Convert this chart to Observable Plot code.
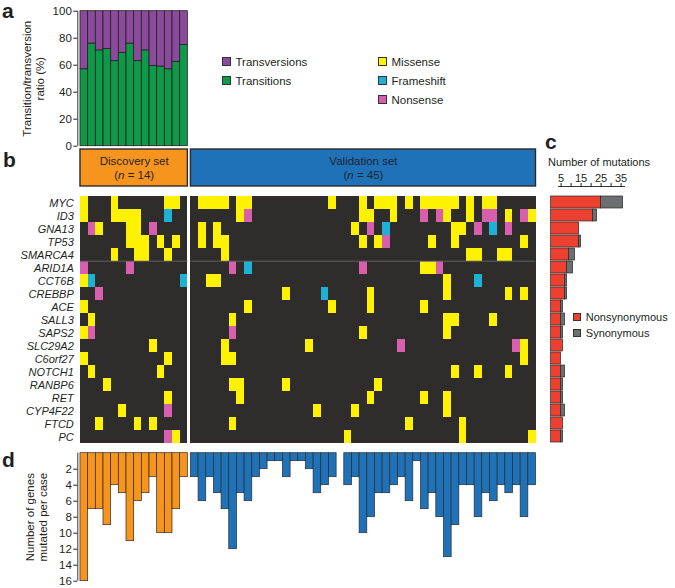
<!DOCTYPE html>
<html><head><meta charset="utf-8">
<script src="https://cdn.jsdelivr.net/npm/d3@7"></script>
<script src="https://cdn.jsdelivr.net/npm/@observablehq/plot@0.6"></script>
<style>
body{margin:0;background:#fff;}
#fig{position:relative;width:675px;height:588px;font-family:"Liberation Sans",Arial,Helvetica,sans-serif;color:#231f20;overflow:hidden;background:#fff;}
#fig svg{position:absolute;left:0;overflow:visible;}
.lbl{position:absolute;font-weight:bold;font-size:21px;line-height:1;}
.leg{position:absolute;height:14px;font-size:11.5px;line-height:14px;display:flex;align-items:center;white-space:nowrap;}
.sw{display:inline-block;width:8.5px;height:8.5px;border:0.8px solid #333;margin-right:5px;box-sizing:border-box;}
.txt{position:absolute;font-size:11px;line-height:14px;white-space:nowrap;}
</style></head><body><div id="fig"></div><script>
// ---------------- DATA ----------------
const genes = ["MYC","ID3","GNA13","TP53","SMARCA4","ARID1A","CCT6B","CREBBP","ACE","SALL3","SAPS2","SLC29A2","C6orf27","NOTCH1","RANBP6","RET","CYP4F22","FTCD","PC"];
const separatorBefore = "ARID1A";
const discoveryN = 14, validationN = 45;
const groupNames = ["Discovery set","Validation set"];

// panel a: % transitions per discovery case (rest = transversions)
const transitionsPct = [57,76,71,72,63,69,76,63,71,59.5,59,57,62.5,75];
const ratioKinds = ["Transversions","Transitions"];
const yTicksA = [0,20,40,60,80,100];

// panel b: M = missense, F = frameshift, N = nonsense
const mutationTypes = ["Missense","Frameshift","Nonsense"];
const discoveryMatrix = [
 "M...M......MM.", // MYC
 "M...MMMM...F..", // ID3
 ".NM...MM.N....", // GNA13
 "......MMM.M.M.", // TP53
 "....M..MM..M..", // SMARCA4
 "N.....N.......", // ARID1A
 "MF...........F", // CCT6B
 "..N...........", // CREBBP
 "M.............", // ACE
 ".M............", // SALL3
 "MN............", // SAPS2
 ".........M....", // SLC29A2
 "M..........M..", // C6orf27
 ".M........M...", // NOTCH1
 "...M..........", // RANBP6
 "...........M..", // RET
 ".....M.....N..", // CYP4F22
 "..M....M.M....", // FTCD
 "...........NM."  // PC
];
const validationMatrix = [
 ".MMMM.MM.. ........M. ..M.MMM.M. MMMMM.M.MM .....", // MYC
 "......MN.. .......... ..MM..M... N.NM..M.NN .M.NM", // ID3
 ".M.M...... .......... .M.N.F.... ....MM.N.F .N...", // GNA13
 ".M.MM..... .......... ..M.MN.... .M..M..... ...M.", // TP53
 "....M..... .......... .......... ......MM.. MM...", // SMARCA4
 ".....N.F.. .......... ..N....... MMN....... .....", // ARID1A
 "..MM...... .......... .......... ...M...F.. .....", // CCT6B
 ".......... ..M....F.. ...M...... ...M...... .M.M.", // CREBBP
 ".......M.. ........M. ...M...... M......... .....", // ACE
 ".....M.... .......... .......... ...MM....M .....", // SALL3
 ".....N.... .......... ..M....... ...M...... .....", // SAPS2
 "....M..... .....M.... .......N.. .......... ..NM.", // SLC29A2
 "....MM.... .......... .......... .......... ...M.", // C6orf27
 ".......... .......... .......... ....M..M.. .M...", // NOTCH1
 ".....MM... ..M....... ....M..... .......... .....", // RANBP6
 "......M... .......... ...M...... M..M...... .....", // RET
 ".......... ......M... .M........ ...M...... .....", // CYP4F22
 ".....M.... .......... ........M. .....M.... .....", // FTCD
 ".......... .......... M......... .....M.... ....M"  // PC
];

// panel c: number of mutations per gene
const mutationKinds = ["Nonsynonymous","Synonymous"];
const nonsynonymous = [25,21,14,14,9,8,7,7,5,5,5,6,5,5,5,5,5,6,5];
const synonymous    = [11,2,0,1,3,3,1,1,1,2,1,0,0,2,1,1,2,0,1];
const xTicksC = [5,10,15,20,25,30,35];
const xLabelsC = [5,15,25,35];

// panel d: number of genes mutated per case
const discoveryGenesPerCase = [16,7,7,9,4,5,11,6,5,3,10,10,7,3];
const validationGenesPerCase = [3,6,3,5,7,12,5,6,3,2,1,1,3,1,1,2,5,4,3,0,4,3,10,8,5,5,4,3,6,1,7,5,8,13,9,4,4,8,5,6,4,5,4,8,4];
const yTicksD = [2,4,6,8,10,12,14,16];

// ---------------- STYLE / LAYOUT ----------------
const COL = {
  Transversions:"#8b4b9c", Transitions:"#0f9a4a",
  Missense:"#fff200", Frameshift:"#1fb0d6", Nonsense:"#d85fae",
  Discovery:"#f7941d", Validation:"#1f72b8",
  Nonsynonymous:"#ec4130", Synonymous:"#6d6e70",
  dark:"#2e2d2c", ink:"#231f20"
};
const FONT = '"Liberation Sans", Arial, Helvetica, sans-serif';
const W = 675, ML = 77.3, MR = 139.5, GAP = 0.4;
const X_DOMAIN = [-0.35, discoveryN + GAP + validationN];
const PXU = (W - ML - MR) / (X_DOMAIN[1] - X_DOMAIN[0]);   // pixels per column unit
const pxToX = px => X_DOMAIN[0] + (px - ML) / PXU;           // layout helper for side labels
const pos = (set, i) => set === "Discovery" ? i : discoveryN + GAP + i;
const codes = {M:"Missense", F:"Frameshift", N:"Nonsense"};
const svgStyle = {background:"transparent", overflow:"visible", color:COL.ink, fontFamily:FONT};
const fig = document.getElementById("fig");
function place(svg, top){ svg.style.top = top + "px"; fig.appendChild(svg); return svg; }

// ---------------- PANEL A ----------------
const ratioRecs = [];
transitionsPct.forEach((t, i) => {
  ratioRecs.push({x: pos("Discovery", i), y1: 0, y2: t, kind: "Transitions"});
  ratioRecs.push({x: pos("Discovery", i), y1: t, y2: 100, kind: "Transversions"});
});
place(Plot.plot({
  width: W, height: 150, marginLeft: ML, marginRight: MR, marginTop: 10.7, marginBottom: 4.3,
  style: svgStyle,
  x: {domain: X_DOMAIN, axis: null},
  y: {domain: [0, 100], axis: null},
  color: {domain: ratioKinds, range: ratioKinds.map(k => COL[k])},
  marks: [
    Plot.rectY(ratioRecs, {x1: "x", x2: d => d.x + 1, y1: "y1", y2: "y2", fill: "kind", stroke: COL.ink, strokeWidth: 0.8}),
    Plot.ruleX([X_DOMAIN[0]], {stroke: COL.ink, strokeWidth: 0.9}),
    Plot.axisY({ticks: yTicksA, tickSize: 4, tickPadding: 2, fontSize: 11.5, label: null}),
    Plot.text(["Transition/transversion\nratio (%)"], {x: pxToX(32.5), y: 50, text: d => d, rotate: -90, textAnchor: "middle", lineAnchor: "middle", fontSize: 11.5, lineHeight: 1.12, fill: COL.ink})
  ]
}), 0);

// ---------------- PANEL B: headers ----------------
const groups = [
  {name: groupNames[0], n: discoveryN, set: "Discovery"},
  {name: groupNames[1], n: validationN, set: "Validation"}
];
const hdr = place(Plot.plot({
  width: W, height: 50, marginLeft: ML, marginRight: MR, marginTop: 9, marginBottom: 4,
  style: svgStyle,
  x: {domain: X_DOMAIN, axis: null},
  y: {domain: [0, 1], axis: null},
  color: {domain: ["Discovery","Validation"], range: [COL.Discovery, COL.Validation]},
  marks: [
    Plot.rect(groups, {x1: d => pos(d.set, 0), x2: d => pos(d.set, 0) + d.n, y1: 0, y2: 1, fill: "set", stroke: "#2b2b2b", strokeWidth: 1.4}),
    Plot.text(groups, {x: d => pos(d.set, 0) + d.n / 2, y: 0.5, text: "name", dy: -7, fontSize: 11.5, fill: "#1d2430"}),
    Plot.text(groups, {x: d => pos(d.set, 0) + d.n / 2, y: 0.5, text: d => "(n = " + d.n + ")", dy: 7.5, fontSize: 11.5, fill: "#1d2430"})
  ]
}), 140);
hdr.querySelectorAll("text").forEach(t => {
  const m = /^\(n = (\d+)\)$/.exec(t.textContent);
  if (m) t.innerHTML = '(<tspan font-style="italic">n</tspan> = ' + m[1] + ')';
});

// ---------------- PANEL B: heatmap ----------------
const mutations = [], bg = [];
genes.forEach((g, r) => {
  [["Discovery", discoveryMatrix, discoveryN], ["Validation", validationMatrix, validationN]].forEach(([set, M, n]) => {
    bg.push({gene: g, set, x1: pos(set, 0), x2: pos(set, 0) + n});
    [...M[r].replace(/ /g, "")].forEach((c, i) => {
      if (c !== ".") mutations.push({gene: g, set, x: pos(set, i), type: codes[c]});
    });
  });
});
const heatTop = 185, heatH = 270, rowTop = 5, rowBottom = 263.3;
const bw = (rowBottom - rowTop) / genes.length;
place(Plot.plot({
  width: W, height: heatH, marginLeft: ML, marginRight: MR, marginTop: rowTop, marginBottom: heatH - rowBottom,
  style: svgStyle,
  x: {domain: X_DOMAIN, axis: null},
  y: {domain: genes, axis: null, padding: 0},
  color: {domain: mutationTypes, range: mutationTypes.map(k => COL[k])},
  marks: [
    Plot.barX(bg, {x1: "x1", x2: "x2", y: "gene", fill: COL.dark, shapeRendering: "crispEdges"}),
    Plot.barX(mutations, {x1: "x", x2: d => d.x + 1, y: "gene", fill: "type", shapeRendering: "crispEdges"}),
    Plot.ruleY(groups, {y: () => separatorBefore, x1: d => pos(d.set, 0), x2: d => pos(d.set, 0) + d.n, dy: -bw / 2, stroke: "#5e5e5e", strokeWidth: 1}),
    Plot.text(genes, {x: X_DOMAIN[0], y: d => d, text: d => d, textAnchor: "end", dx: -4, fontStyle: "italic", fontSize: 11, fill: COL.ink})
  ]
}), heatTop);

// ---------------- PANEL C ----------------
const cRecs = [];
genes.forEach((g, i) => {
  cRecs.push({gene: g, x1: 0, x2: nonsynonymous[i], kind: "Nonsynonymous"});
  if (synonymous[i] > 0) cRecs.push({gene: g, x1: nonsynonymous[i], x2: nonsynonymous[i] + synonymous[i], kind: "Synonymous"});
});
const cTop = 140, cH = 315;
place(Plot.plot({
  width: W, height: cH, marginLeft: 558, marginRight: 51, marginTop: 46, marginBottom: 6.7,
  style: svgStyle,
  x: {domain: [3.7, 36.7], axis: null},
  y: {domain: genes, range: [heatTop + rowTop - cTop, heatTop + rowBottom - cTop], paddingInner: 0.08, paddingOuter: 0.04, axis: null},
  color: {domain: mutationKinds, range: mutationKinds.map(k => COL[k])},
  marks: [
    Plot.barX(cRecs, {x1: "x1", x2: "x2", y: "gene", fill: "kind", stroke: "#2a2a2a", strokeWidth: 0.7}),
    Plot.frame({anchor: "top", stroke: COL.ink, strokeWidth: 0.9}),
    Plot.axisX({anchor: "top", ticks: xTicksC, tickSize: 4, tickPadding: 1, fontSize: 11, tickFormat: d => xLabelsC.includes(d) ? String(d) : "", label: null})
  ]
}), cTop);

// ---------------- PANEL D ----------------
const dRecs = [
  ...discoveryGenesPerCase.map((v, i) => ({x: pos("Discovery", i), v, set: "Discovery"})),
  ...validationGenesPerCase.map((v, i) => ({x: pos("Validation", i), v, set: "Validation"}))
].filter(d => d.v > 0);
place(Plot.plot({
  width: W, height: 143, marginLeft: ML, marginRight: MR, marginTop: 7.7, marginBottom: 7.3,
  style: svgStyle,
  x: {domain: X_DOMAIN, axis: null},
  y: {domain: [0, 16], reverse: true, axis: null},
  color: {domain: ["Discovery","Validation"], range: [COL.Discovery, COL.Validation]},
  marks: [
    Plot.rectY(dRecs, {x1: "x", x2: d => d.x + 1, y1: 0, y2: "v", fill: "set", stroke: "#2a2a2a", strokeWidth: 0.7}),
    Plot.ruleX([X_DOMAIN[0]], {stroke: COL.ink, strokeWidth: 0.9}),
    Plot.axisY({ticks: yTicksD, tickSize: 4, tickPadding: 2, fontSize: 11.5, label: null}),
    Plot.text(["Number of genes\nmutated per case"], {x: pxToX(36), y: 8, text: d => d, rotate: -90, textAnchor: "middle", lineAnchor: "middle", fontSize: 11.5, lineHeight: 1.12, fill: COL.ink})
  ]
}), 445);

// ---------------- HTML labels & legends ----------------
function add(cls, html, left, top, extra) {
  const d = document.createElement("div");
  d.className = cls; d.innerHTML = html;
  d.style.left = left + "px"; d.style.top = top + "px";
  if (extra) Object.assign(d.style, extra);
  fig.appendChild(d); return d;
}
add("lbl", "a", 2, 0); add("lbl", "b", 3, 149); add("lbl", "c", 545, 130.5); add("lbl", "d", 2, 449);
function legend(label, color, left, cy, size, fs) {
  add("leg", '<span class="sw" style="background:' + color + ';width:' + size + 'px;height:' + size + 'px"></span>' + label, left, cy - 7, {fontSize: fs + "px"});
}
legend(ratioKinds[0], COL.Transversions, 222, 61.5, 8.5, 11.5);
legend(ratioKinds[1], COL.Transitions, 222, 80.5, 8.5, 11.5);
legend(mutationTypes[0], COL.Missense, 378, 61.5, 8.5, 11.5);
legend(mutationTypes[1], COL.Frameshift, 378, 80.5, 8.5, 11.5);
legend(mutationTypes[2], COL.Nonsense, 378, 99.7, 8.5, 11.5);
legend(mutationKinds[0], COL.Nonsynonymous, 573.3, 317, 7.5, 11);
legend(mutationKinds[1], COL.Synonymous, 573.3, 333, 7.5, 11);
add("txt", "Number of mutations", 548, 155);
</script></body></html>
